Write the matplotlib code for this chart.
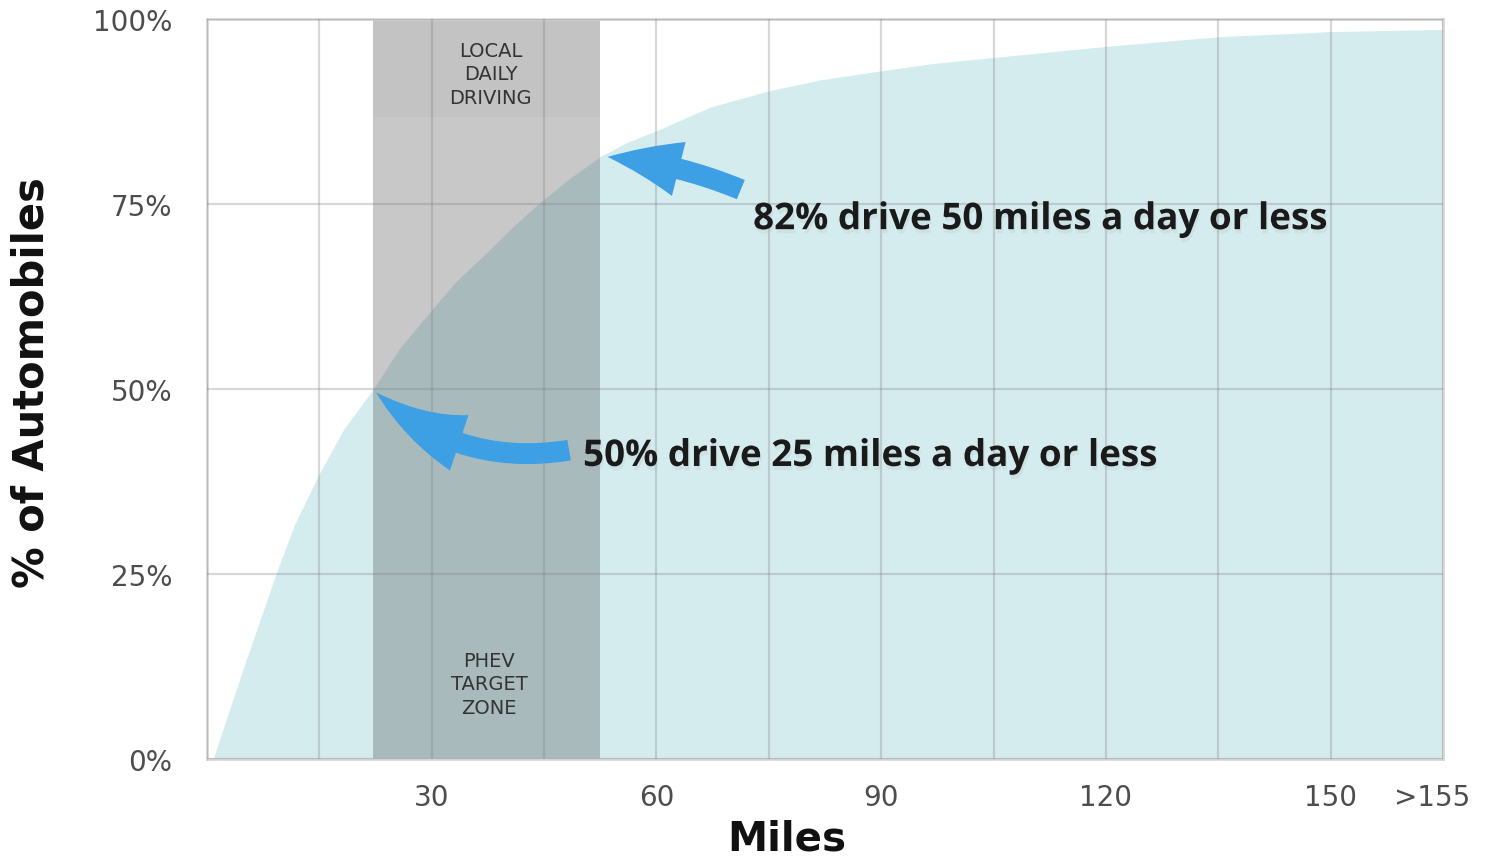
import matplotlib
matplotlib.use('Agg')
import matplotlib.pyplot as plt
import matplotlib.patches as patches
import matplotlib.patheffects as pe

# cumulative share of cars vs. daily miles driven
miles = [0.8, 5, 9.2, 11.6, 15, 18.2, 22.2, 25.7, 30, 33.2, 37.2, 40.7, 44.2, 48.2, 52.5,
         56, 60, 67.2, 75, 82, 90, 97, 105, 120, 135, 150, 165]
pct_cars = [0, 12.7, 25, 31.5, 38.6, 44.5, 50, 55.5, 60.7, 64.5, 68.3, 71.8, 75, 78.3, 81.4,
            83.3, 84.9, 88.1, 90.3, 91.8, 93, 94, 94.8, 96.3, 97.6, 98.3, 98.6]

# PHEV target zone / local daily driving band
zone_start, zone_end = 22.2, 52.5

x_tick_vals = [30, 60, 90, 120, 150, 163.5]
x_tick_labels = ['30', '60', '90', '120', '150', '>155']
y_tick_vals = [0, 25, 50, 75, 100]
y_tick_labels = ['0%', '25%', '50%', '75%', '100%']

note_top = '82% drive 50 miles a day or less'
note_bottom = '50% drive 25 miles a day or less'

fill_color = '#d5ecef'
arrow_color = '#3d9fe4'
tick_color = '#4d4d4d'

fig = plt.figure(figsize=(14.86, 8.62), dpi=100)
ax = fig.add_axes([0.1393, 0.1183, 0.8318, 0.8585])
ax.set_xlim(0, 165)
ax.set_ylim(0, 100)

# area under the curve
ax.fill_between(miles, 0, pct_cars, color=fill_color, lw=0, zorder=1)

# grey zone band, slightly darker header strip at the top
ax.axvspan(zone_start, zone_end, color='#2d2d2d', alpha=0.26, lw=0, zorder=2)
ax.add_patch(patches.Rectangle((zone_start, 86.8), zone_end - zone_start, 13.2,
                               color='#2d2d2d', alpha=0.03, lw=0, zorder=2))

# grid
ax.xaxis.remove_overlapping_locs = False
ax.set_xticks(range(0, 166, 15), minor=True)
ax.set_xticks(x_tick_vals)
ax.set_xticklabels(x_tick_labels)
ax.set_yticks(y_tick_vals)
ax.set_yticklabels(y_tick_labels)
ax.grid(which='minor', axis='x', color='#7f7f7f', alpha=0.3, lw=1.6, zorder=3)
ax.grid(which='major', axis='y', color='#7f7f7f', alpha=0.3, lw=1.6, zorder=3)
ax.grid(which='major', axis='x', visible=False)
ax.set_axisbelow(False)
ax.tick_params(which='both', length=0)
ax.tick_params(axis='y', pad=25, labelsize=20, labelcolor=tick_color)
ax.tick_params(axis='x', pad=17, labelsize=20, labelcolor=tick_color)
for s in ax.spines.values():
    s.set_color('#d2d2d2')
    s.set_linewidth(1.8)

# zone labels
ax.text((zone_start + zone_end) / 2 + 0.5, 92.6, 'LOCAL\nDAILY\nDRIVING', ha='center', va='center',
        fontsize=14, color='#333333', linespacing=1.3, zorder=5)
ax.text((zone_start + zone_end) / 2 + 0.3, 10.2, 'PHEV\nTARGET\nZONE', ha='center', va='center',
        fontsize=14, color='#333333', linespacing=1.3, zorder=5)

# curved block arrows
arr_top = patches.FancyArrowPatch((71.6, 76.8), (53.1, 81.4),
                                  arrowstyle='simple,head_length=52,head_width=40,tail_width=15',
                                  connectionstyle='arc3,rad=0.08', color=arrow_color, lw=0, zorder=6)
arr_bot = patches.FancyArrowPatch((48.7, 41.8), (22.3, 49.8),
                                  arrowstyle='simple,head_length=70,head_width=42,tail_width=15',
                                  connectionstyle='arc3,rad=-0.25', color=arrow_color, lw=0, zorder=6)
ax.add_patch(arr_top)
ax.add_patch(arr_bot)

shadow = [pe.withSimplePatchShadow(offset=(1, -3), shadow_rgbFace='#a8b2b5', alpha=0.18)]
ax.text(72.9, 71.6, note_top, ha='left', va='baseline', fontsize=26.5, fontweight='bold',
        family='Open Sans', color='#1a1a1a', zorder=7, path_effects=shadow)
ax.text(50.2, 39.6, note_bottom, ha='left', va='baseline', fontsize=26.5, fontweight='bold',
        family='Open Sans', color='#1a1a1a', zorder=7, path_effects=shadow)

# axis titles
ax.text(-0.1416, 0.51, '% of Automobiles', transform=ax.transAxes, rotation=90,
        ha='center', va='center', fontsize=30, fontweight='bold', color='#111111')
ax.text(0.469, -0.1216, 'Miles', transform=ax.transAxes, ha='center', va='baseline',
        fontsize=29, fontweight='bold', color='#111111')

fig.savefig('out.png', dpi=100, facecolor='white')
plt.close(fig)
